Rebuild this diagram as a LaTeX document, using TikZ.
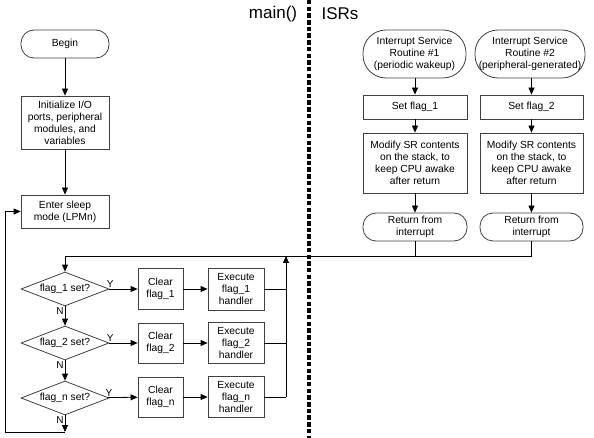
\documentclass[tikz,border=0pt]{standalone}
\usepackage{fontspec}
\setmainfont{Liberation Sans}
\usetikzlibrary{arrows.meta,shapes.geometric}
\begin{document}
\begin{tikzpicture}[x=1pt,y=-1pt,
  every node/.style={font=\fontsize{10.3}{12}\selectfont,align=center,inner sep=0pt},
  box/.style={draw=black!75,line width=0.8pt,rectangle,minimum width=#1},
  box/.default=88pt,
  term/.style={draw=black!75,line width=0.8pt,rectangle,rounded corners=13pt,minimum width=#1},
  dec/.style={draw=black!75,line width=0.8pt,diamond,aspect=2.6,minimum width=88pt,minimum height=34pt},
  conn/.style={line width=0.8pt,draw=black},
  arr/.style={conn,-{Triangle[length=7pt,width=6pt]}},
  lbl/.style={font=\fontsize{10}{12}\selectfont}
]
\useasboundingbox (0,0) rectangle (594,438);
% titles
\node[font=\fontsize{17}{20}\selectfont] (tmain) at (273,14) {main()};
\node[font=\fontsize{17}{20}\selectfont] (tisr) at (340,14) {ISRs};
\coordinate (dtop) at (309,0);
\coordinate (dbot) at (309,438);
\draw[line width=3.3pt,dash pattern=on 4.5pt off 2.2pt] (dtop) -- (dbot);

% main column
\node[term=88pt,minimum height=28pt] (begin) at (65,44) {Begin};
\node[box,minimum height=53pt] (init) at (65,122.5) {Initialize I/O\\ports, peripheral\\modules, and\\variables};
\node[box,minimum height=33pt] (sleep) at (65,211.5) {Enter sleep\\mode (LPMn)};
\draw[arr] (begin) -- (init);
\draw[arr] (init) -- (sleep);

% ISRs
\node[draw=black!75,line width=0.8pt,rounded corners=23pt,minimum width=103pt,minimum height=48pt] (isr1) at (414.5,54) {Interrupt Service\\Routine \#1\\(periodic wakeup)};
\node[draw=black!75,line width=0.8pt,rounded corners=23pt,minimum width=110pt,minimum height=48pt] (isr2) at (530,54) {Interrupt Service\\Routine \#2\\(peripheral-generated)};
\node[box=104pt,minimum height=24pt] (set1) at (415,107) {Set flag\_1};
\node[box=103pt,minimum height=24pt] (set2) at (531.5,107) {Set flag\_2};
\node[box=104pt,minimum height=60pt] (mod1) at (415,163) {Modify SR contents\\on the stack, to\\keep CPU awake\\after return};
\node[box=103pt,minimum height=60pt] (mod2) at (531.5,163) {Modify SR contents\\on the stack, to\\keep CPU awake\\after return};
\node[term=104pt,minimum height=28pt] (ret1) at (415,227) {Return from\\interrupt};
\node[term=103pt,minimum height=28pt] (ret2) at (531.5,227) {Return from\\interrupt};
\draw[arr] (isr1.south -| set1) -- (set1);
\draw[arr] (isr2.south -| set2) -- (set2);
\draw[arr] (set1) -- (mod1);
\draw[arr] (set2) -- (mod2);
\draw[arr] (mod1) -- (ret1);
\draw[arr] (mod2) -- (ret2);

\coordinate (j2) at (531.5,256);
\coordinate (j1) at (415,256);
\coordinate (jl) at (65,256);
\coordinate (jb) at (286,256);
\draw[conn] (ret1) -- (j1);
\draw[conn] (ret2) -- (j2) -- (jl);

% flag checks
\node[dec] (d1) at (65,289) {flag\_1 set?};
\node[dec] (d2) at (65,343) {flag\_2 set?};
\node[dec] (d3) at (65,398) {flag\_n set?};
\node[box=45pt,minimum height=41pt] (c1) at (160.5,289) {Clear\\flag\_1};
\node[box=45pt,minimum height=40pt] (c2) at (160.5,343) {Clear\\flag\_2};
\node[box=45pt,minimum height=40pt] (c3) at (160.5,397) {Clear\\flag\_n};
\node[box=56pt,minimum height=42pt] (e1) at (236,289) {Execute\\flag\_1\\handler};
\node[box=56pt,minimum height=41pt] (e2) at (236,343) {Execute\\flag\_2\\handler};
\node[box=56pt,minimum height=41pt] (e3) at (236,397) {Execute\\flag\_n\\handler};

\draw[arr] (jl) -- (d1);
\draw[arr] (d1) -- node[lbl,above,xshift=-3pt,yshift=1pt,anchor=south west,pos=0] {Y} (c1);
\draw[arr] (d2) -- node[lbl,above,xshift=-3pt,yshift=1pt,anchor=south west,pos=0] {Y} (c2);
\draw[arr] (d3) -- node[lbl,above,xshift=-3pt,yshift=1pt,anchor=south west,pos=0] {Y} (c3);
\draw[arr] (c1) -- (e1);
\draw[arr] (c2) -- (e2);
\draw[arr] (c3) -- (e3);
\draw[arr] (d1) -- node[lbl,pos=0,anchor=north east,xshift=-1pt,yshift=-1pt] {N} (d2);
\draw[arr] (d2) -- node[lbl,pos=0,anchor=north east,xshift=-1pt,yshift=-1pt] {N} (d3);
\coordinate (bot) at (65,432);
\coordinate (botl) at (5,432);
\draw[arr] (d3) -- node[lbl,pos=0,anchor=north east,xshift=-1pt,yshift=-1pt] {N} (bot);
\draw[arr] (bot) -- (botl) |- (sleep.west);

\coordinate (b3) at (286,397);
\draw[conn] (e1.east) -- (e1.east -| jb);
\draw[conn] (e2.east) -- (e2.east -| jb);
\draw[conn] (e3.east) -- (b3);
\draw[arr] (b3) -- (jb);
\end{tikzpicture}
\end{document}
